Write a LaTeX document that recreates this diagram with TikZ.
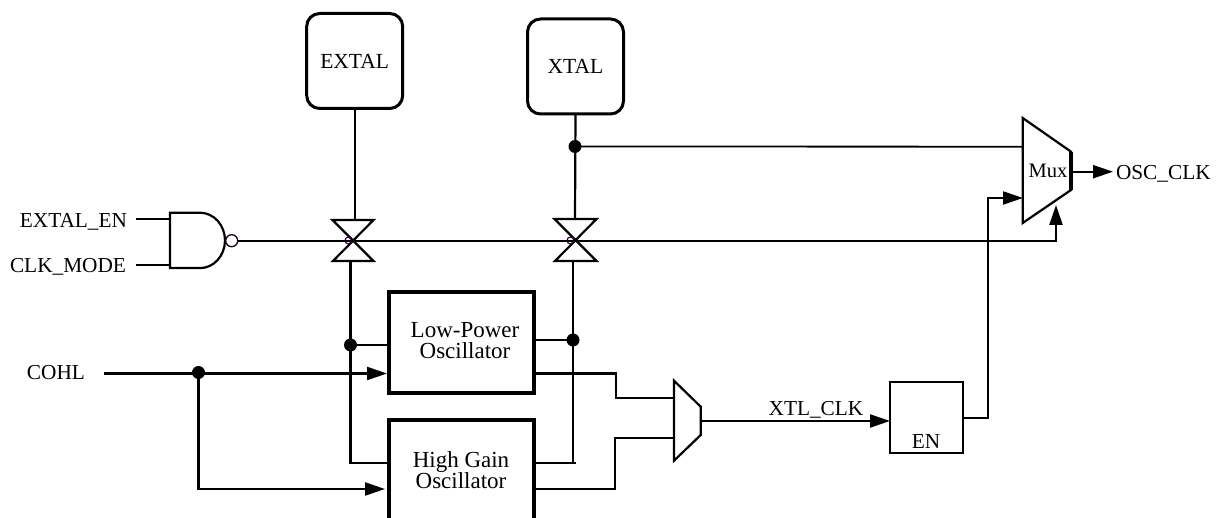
\documentclass[tikz,border=0pt]{standalone}
\usepackage{fontspec}
\setmainfont{Liberation Serif}
\usetikzlibrary{arrows.meta}
\tikzset{
  wire/.style={line width=2.2pt,line cap=butt,line join=miter},
  thin wire/.style={line width=1.8pt},
  arr/.style={wire,-{Triangle[length=20pt,width=13pt]}},
  pad/.style={draw,line width=3pt,rounded corners=13pt,minimum width=96pt,minimum height=95pt,inner sep=0pt,outer sep=0pt,font=\fontsize{21.5}{21}\selectfont},
  oscbox/.style={draw,line width=3.8pt,minimum width=145pt,inner sep=0pt,outer sep=0pt},
  enbox/.style={draw,line width=2.2pt,minimum width=73pt,minimum height=71pt,inner sep=0pt,outer sep=0pt},
  lbl/.style={inner sep=0pt,outer sep=0pt,font=\fontsize{21.3}{21}\selectfont},
  osclbl/.style={inner sep=0pt,outer sep=0pt,align=center,font=\fontsize{23}{21}\selectfont},
  shape line/.style={line width=2.2pt,line join=miter},
  dot/.style={circle,fill=black,minimum size=13pt,inner sep=0pt,outer sep=0pt},
  bubble/.style={circle,draw=black!80!violet,line width=1.3pt,fill=white,minimum size=12pt,inner sep=0pt,outer sep=0pt},
  smallbubble/.style={circle,draw=black!70!violet,line width=1.1pt,minimum size=7pt,inner sep=0pt,outer sep=0pt},
}
\begin{document}
\begin{tikzpicture}[x=1pt,y=-1pt]
\useasboundingbox (0,0) rectangle (1216,518);
\clip (0,0) rectangle (1216,518);
\fill[white] (0,0) rectangle (1216,518);

% pads
\node[pad] (extal) at (354.7,61) {EXTAL};
\node[pad] (xtal) at (575.5,66.5) {XTAL};

% oscillators
\node[oscbox,minimum height=101pt] (lp) at (461.5,342.5) {};
\node[osclbl] (lplbl) at (465,340.5) {Low-Power\\Oscillator};
\node[oscbox,minimum height=160pt] (hg) at (461.5,500) {};
\node[osclbl] (hglbl) at (461,470.5) {High Gain\\Oscillator};

% enable box
\node[enbox] (en) at (926.5,417.5) {};
\node[lbl] (enlbl) at (926,442) {EN};

% pin and junction points
\coordinate (g1t) at (354.7,220);
\coordinate (g2t) at (575,219);
\coordinate (g1b) at (350.5,261);
\coordinate (g2b) at (573,261);
\coordinate (nandout) at (238,240.7);
\coordinate (muxsel) at (1056,240.7);
\coordinate (muxselin) at (1056,205);
\coordinate (muxa) at (1023,146.7);
\coordinate (muxb) at (1023,198);
\coordinate (muxout) at (1072,171.7);
\coordinate (muxtip) at (1113,171.7);
\coordinate (amux1) at (674,397.7);
\coordinate (amux2) at (674,438);
\coordinate (amuxout) at (701,421);
\coordinate (hgl) at (389,463);
\coordinate (hgr) at (534,463);
\coordinate (hgrtop) at (576,463);
\coordinate (lpl) at (389,345);
\coordinate (lpr) at (534,340);
\coordinate (lpin) at (387,373.5);
\coordinate (hgin) at (385,489);
\coordinate (lpout) at (534,373.5);
\coordinate (hgout) at (534,489);
\coordinate (enout) at (963,418);
\coordinate (enin) at (890,421);
\coordinate (nandA) at (170,218.7);
\coordinate (nandB) at (170,265);
\coordinate (extalenend) at (136,218.7);
\coordinate (clkmodeend) at (136,265);
\coordinate (cohlend) at (104,373.5);

% junctions
\node[dot] (j1) at (575,146.5) {};
\node[dot] (j2) at (350.5,345) {};
\node[dot] (j3) at (573,340) {};
\node[dot] (j4) at (198.5,372.5) {};

% transmission gates
\draw[shape line] (332.5,220) -- (373.5,220) -- (333,261) -- (373.5,261) -- cycle;
\draw[shape line] (554.5,219) -- (596.5,219) -- (555,261) -- (596.5,261) -- cycle;
\node[smallbubble] (b1) at (348.5,240.5) {};
\node[smallbubble] (b2) at (570.5,240.5) {};

% NAND gate
\draw[shape line] (170,212.7) -- (200,212.7) arc[start angle=-90,end angle=90,x radius=25pt,y radius=-27.7pt] -- (170,268.1) -- cycle;
\node[bubble] (nandbub) at (231.7,240.7) {};

% muxes
\draw[shape line] (1022.7,118) -- (1071,151.7) -- (1071,190) -- (1022.7,223) -- cycle;
\draw[line width=3.4pt] (1071,151.7) -- (1071,190);
\node[lbl,font=\fontsize{20.5}{21}\selectfont] (muxlbl) at (1048,171) {Mux};
\draw[shape line] (674,380.7) -- (700.7,406.7) -- (700.7,435) -- (674,460.7) -- cycle;

% text labels
\node[lbl,anchor=east] (lextal) at (127,222) {EXTAL\_EN};
\node[lbl,anchor=east] (lclk) at (126,267) {CLK\_MODE};
\node[lbl,anchor=west] (lcohl) at (27,373) {COHL};
\node[lbl,anchor=west] (losc) at (1116,174) {OSC\_CLK};
\node[lbl,anchor=south] (lxtl) at (816,418) {XTL\_CLK};

% connectors
\draw[wire] (extal.south) -- (g1t);
\draw[wire] (xtal.south) -- (g2t);
\draw[wire] (extalenend) -- (nandA);
\draw[wire] (clkmodeend) -- (nandB);
\draw[arr] (nandout) -- (muxsel) -- (muxselin);
\draw[thin wire] (j1.center) -- (muxa);
\draw[arr] (muxout) -- (muxtip);
\draw[arr] (enout) -- (988,418) -- (988,198) -- (muxb);
\draw[arr] (amuxout) -- (enin);
\draw[wire] (g1b) -- (350.5,463) -- (hgl);
\draw[wire] (g2b) -- (573,463);
\draw[wire] (hgr) -- (hgrtop);
\draw[wire] (j2.center) -- (lpl);
\draw[wire] (lpr) -- (j3.center);
\draw[arr] (cohlend) -- (lpin);
\draw[arr] (j4.center) -- (198.5,489) -- (hgin);
\draw[wire] (lpout) -- (616,373.5) -- (616,397.7) -- (amux1);
\draw[wire] (hgout) -- (615,489) -- (615,438) -- (amux2);
\end{tikzpicture}
\end{document}
